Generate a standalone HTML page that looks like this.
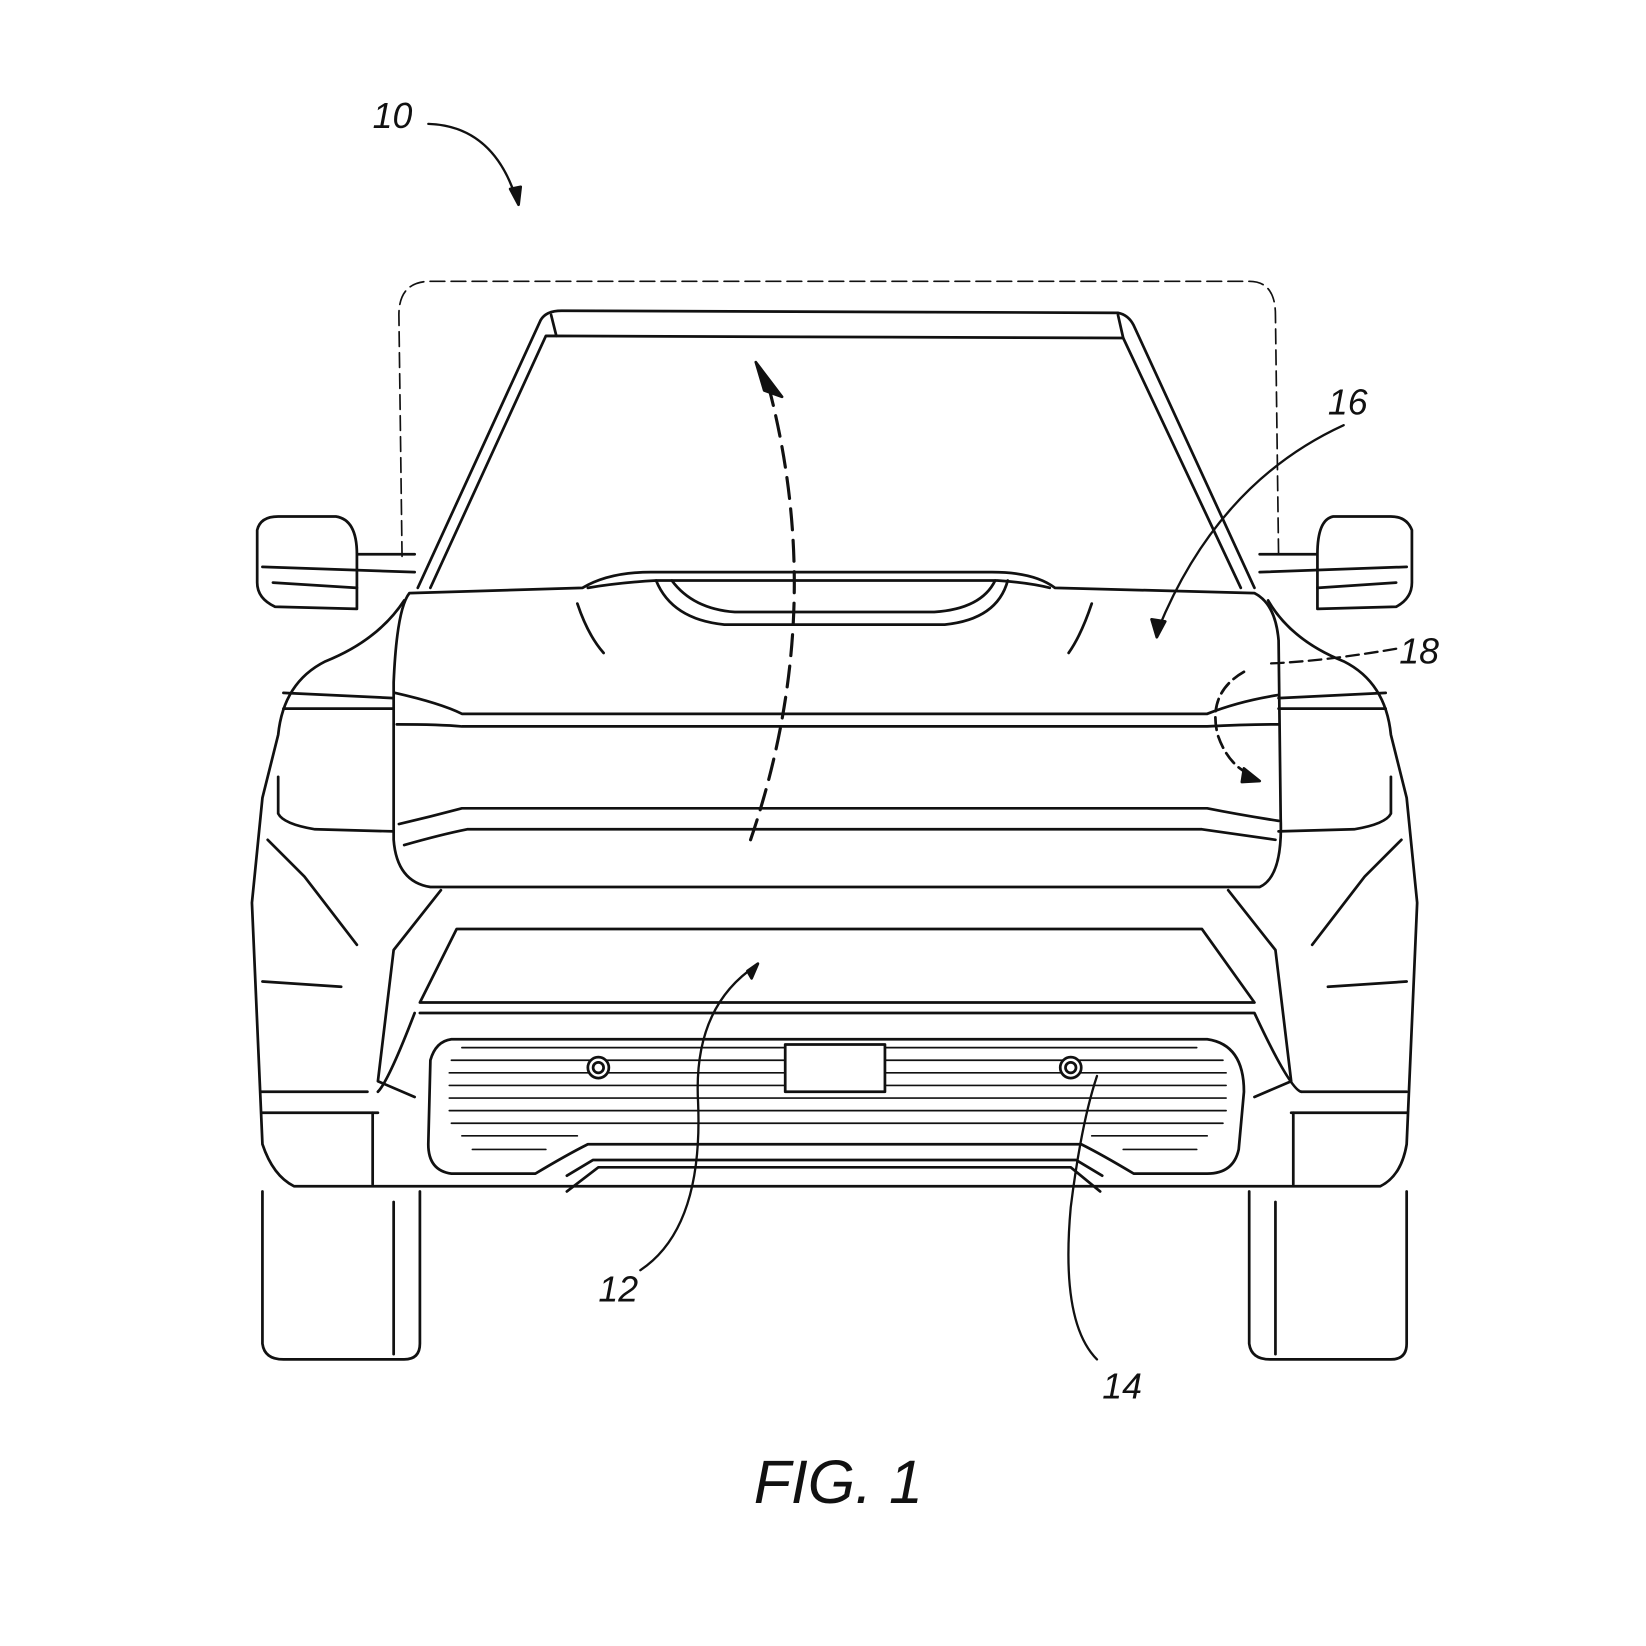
<!DOCTYPE html>
<html><head><meta charset="utf-8"><style>
html,body{margin:0;padding:0;background:#fff}
svg{display:block}
text{font-family:"Liberation Sans",sans-serif;font-style:italic;fill:#111}
</style></head><body>
<svg width="1646" height="1646" viewBox="0 0 1568 1568" xmlns="http://www.w3.org/2000/svg">
<g fill="none" stroke="#111" stroke-width="2.6" stroke-linejoin="round" stroke-linecap="round">
<!-- phantom open hood -->
<path d="M383,530 L380,300 Q380,268 410,268 L1190,268 Q1215,268 1215,300 L1218,530" stroke-dasharray="14,6" stroke-width="1.6"/>
<!-- windshield frame -->
<path d="M398,560 L515,305 Q520,296 535,296 L1065,298 Q1075,300 1080,310 L1195,560"/>
<path d="M410,560 L520,320 L1070,322 L1182,560"/>
<path d="M525,300 L530,320 M1065,300 L1070,322"/>
<!-- mirrors -->
<path d="M395,528 L340,528 L340,580 L262,578 Q245,570 245,555 L245,505 Q248,492 265,492 L320,492 Q340,495 340,528"/>
<path d="M250,540 L395,545 M260,555 L340,560"/>
<path d="M1200,528 L1255,528 L1255,580 L1330,578 Q1345,570 1345,555 L1345,505 Q1340,492 1325,492 L1270,492 Q1255,495 1255,528"/>
<path d="M1340,540 L1200,545 M1330,555 L1255,560"/>
<!-- hood -->
<path d="M390,565 L555,560 Q580,545 620,545 L945,545 Q985,545 1005,560 L1195,565 Q1215,575 1218,610 L1220,780 Q1222,835 1200,845 L410,845 Q378,840 375,800 L375,650 Q378,580 390,565 Z"/>
<path d="M560,560 Q590,555 625,553 L950,553 Q980,555 1000,560"/>
<path d="M625,553 Q640,590 690,595 L900,595 Q950,590 960,553"/>
<path d="M640,553 Q660,580 700,583 L890,583 Q935,580 948,553"/>
<path d="M550,575 Q560,605 575,622 M1040,575 Q1030,605 1018,622"/>
<path d="M376,660 Q420,670 440,680 L1150,680 Q1180,668 1218,662"/>
<path d="M378,690 Q420,690 440,692 L1150,692 Q1185,690 1218,690"/>
<path d="M380,785 Q410,778 440,770 L1150,770 Q1180,776 1218,782"/>
<path d="M385,805 Q420,795 445,790 L1145,790 Q1180,795 1215,800"/>
<!-- body sides -->
<path d="M385,572 Q360,610 310,630 Q270,650 265,700 L250,760 L240,860 L250,1090 Q260,1120 280,1130 L1315,1130 Q1335,1120 1340,1090 L1350,860 L1340,760 L1325,700 Q1320,650 1280,630 Q1230,610 1208,572"/>
<path d="M265,740 L265,775 Q270,785 300,790 L375,792 M1325,740 L1325,775 Q1320,785 1290,790 L1218,792"/>
<path d="M270,660 L375,665 M270,675 L375,675 M1320,660 L1218,665 M1320,675 L1218,675"/>
<path d="M255,800 L290,835 L340,900 M1335,800 L1300,835 L1250,900"/>
<path d="M250,935 L325,940 M1340,935 L1265,940"/>
<path d="M248,1040 L350,1040 M1340,1040 L1240,1040"/>
<path d="M250,1060 L360,1060 M1340,1060 L1230,1060"/>
<path d="M355,1060 L355,1128 M1232,1060 L1232,1128"/>
<path d="M420,848 L375,905 L360,1030 L395,1045 M1170,848 L1215,905 L1230,1030 L1195,1045"/>
<!-- lower bumper -->
<path d="M435,885 L1145,885 L1195,955 L400,955 Z"/>
<path d="M400,965 L1195,965 Q1230,1040 1240,1040"/>
<path d="M395,965 Q370,1030 360,1040"/>
<!-- grille -->
<path d="M430,990 L1150,990 Q1185,995 1185,1040 L1180,1095 Q1175,1118 1150,1118 L1080,1118 Q1050,1100 1030,1090 L560,1090 Q540,1100 510,1118 L430,1118 Q408,1115 408,1090 L410,1010 Q415,992 430,990 Z"/>
<path d="M440,998 L1140,998 M430,1010 L1165,1010 M428,1022 L1168,1022 M428,1034 L1168,1034 M428,1046 L1168,1046 M428,1058 L1168,1058 M430,1070 L1165,1070 M440,1082 L550,1082 M1040,1082 L1150,1082 M450,1095 L520,1095 M1070,1095 L1140,1095" stroke-width="1.6"/>
<path d="M540,1120 L565,1105 L1025,1105 L1050,1120 M540,1135 L570,1112 L1020,1112 L1048,1135"/>
<rect x="748" y="995" width="95" height="45" fill="#fff"/>
<circle cx="570" cy="1017" r="10" fill="#fff"/><circle cx="570" cy="1017" r="5"/>
<circle cx="1020" cy="1017" r="10" fill="#fff"/><circle cx="1020" cy="1017" r="5"/>
<!-- wheels -->
<path d="M250,1135 L250,1280 Q252,1295 270,1295 L385,1295 Q400,1295 400,1280 L400,1135"/>
<path d="M375,1145 L375,1290"/>
<path d="M1190,1135 L1190,1280 Q1192,1295 1210,1295 L1325,1295 Q1340,1295 1340,1280 L1340,1135"/>
<path d="M1215,1145 L1215,1290"/>
<!-- leaders -->
<path d="M408,118 Q470,120 492,190" stroke-width="2.2"/>
<path d="M486,180 L494,195 L496,178 Z" fill="#111"/>
<path d="M1280,405 Q1160,460 1103,600" stroke-width="2.2"/>
<path d="M1097,590 L1102,607 L1110,592 Z" fill="#111"/>
<path d="M1330,618 Q1260,630 1210,632" stroke-dasharray="12,6" stroke-width="2.2"/>
<path d="M1185,640 Q1150,660 1160,700 Q1170,730 1195,740" stroke-dasharray="12,6" stroke-width="2.6"/>
<path d="M1185,732 L1200,744 L1183,745 Z" fill="#111"/>
<path d="M715,800 Q790,580 730,360" stroke-dasharray="20,10" stroke-width="3"/>
<path d="M720,345 L745,378 L728,372 Z" fill="#111"/>
<path d="M610,1210 Q670,1170 665,1050 Q660,960 720,920" stroke-width="2.2"/>
<path d="M712,925 L722,918 L716,932 Z" fill="#111"/>
<path d="M1045,1295 Q1010,1260 1020,1150 Q1030,1070 1045,1025" stroke-width="2.2"/>
</g>
<text x="355" y="122" font-size="34">10</text>
<text x="1265" y="395" font-size="34">16</text>
<text x="1333" y="632" font-size="34">18</text>
<text x="570" y="1240" font-size="34">12</text>
<text x="1050" y="1332" font-size="34">14</text>
<text x="718" y="1432" font-size="58">FIG. 1</text>
</svg>
</body></html>
